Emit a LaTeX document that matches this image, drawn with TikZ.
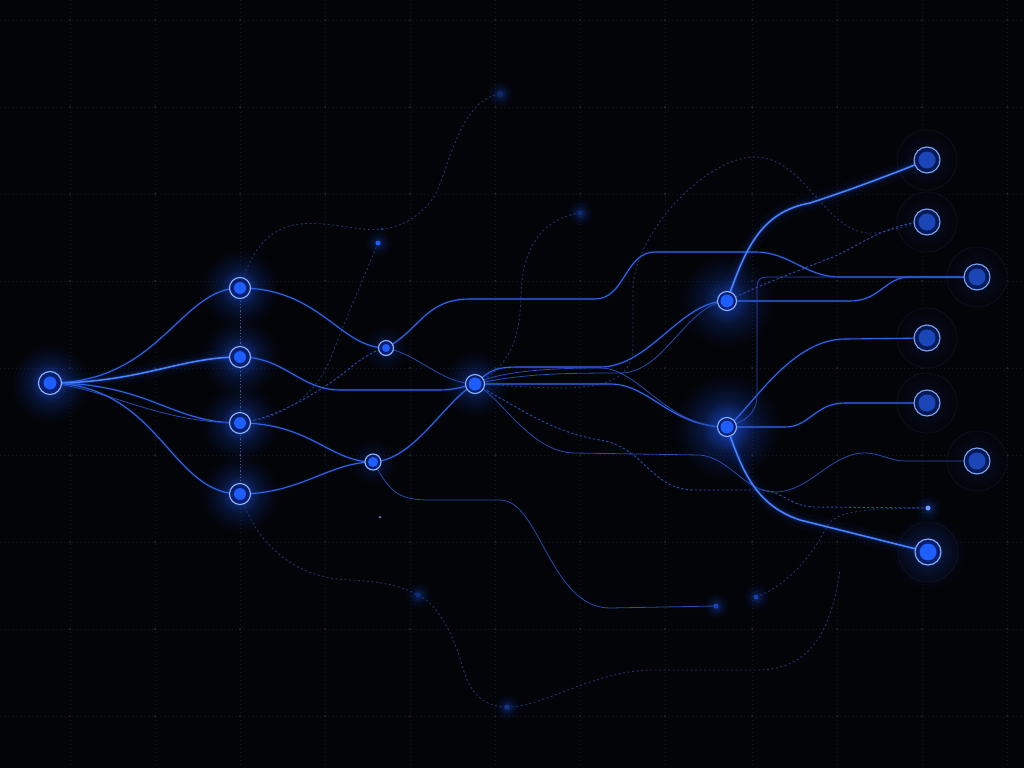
\documentclass[tikz,border=0pt]{standalone}
\usetikzlibrary{fadings}
\definecolor{bg}{HTML}{030408}
\definecolor{gridc}{HTML}{121726}
\definecolor{griddot}{HTML}{252C40}
\definecolor{glowc}{HTML}{1F5BFF}
\definecolor{brightc}{HTML}{4A85FF}
\definecolor{midc}{HTML}{3065EA}
\definecolor{faintc}{HTML}{264BB4}
\definecolor{dashc}{HTML}{22336C}
\definecolor{colldot}{HTML}{3E5AA0}
\definecolor{ringc}{HTML}{8FB6FF}
\definecolor{outring}{HTML}{7EA7F5}
\definecolor{innerc}{HTML}{0A1F6E}
\definecolor{outinner}{HTML}{081A55}
\definecolor{corec}{HTML}{1E5EFF}
\definecolor{outcore}{HTML}{1B46B8}
\definecolor{halofill}{HTML}{04050B}
\definecolor{haloline}{HTML}{0B1020}

\pgfdeclareradialshading{glowfadeshade}{\pgfpointorigin}{color(0bp)=(pgftransparent!0); color(5bp)=(pgftransparent!40); color(12bp)=(pgftransparent!75); color(20bp)=(pgftransparent!93); color(25bp)=(pgftransparent!100); color(50bp)=(pgftransparent!100)}
\pgfdeclarefading{glowfade}{\pgfuseshading{glowfadeshade}}

\tikzset{
  gridline/.style={gridc, line width=0.6pt, dash pattern=on 1pt off 3pt},
  brightedge/.style={brightc, line width=1.5pt, line cap=round,
    preaction={draw=glowc, line width=16pt, draw opacity=0.04},
    preaction={draw=glowc, line width=8pt, draw opacity=0.08},
    preaction={draw=glowc, line width=3.5pt, draw opacity=0.22}},
  midedge/.style={midc, line width=1.1pt, line cap=round,
    preaction={draw=glowc, line width=3pt, draw opacity=0.12}},
  faintedge/.style={faintc, line width=0.8pt, line cap=round},
  dashedge/.style={dashc, line width=0.9pt, dash pattern=on 2pt off 2.5pt},
  dashmid/.style={faintc, line width=0.9pt, dash pattern=on 2.5pt off 2pt},
  glowspot/.style={glowc, path fading=glowfade, fill opacity=#1},
  netnode/.style 2 args={circle, inner sep=0pt, minimum size=#1, draw=ringc, line width=1.1pt, fill=innerc,
    path picture={\fill[corec] (path picture bounding box.center) circle (#2);}},
  outnode/.style 2 args={circle, inner sep=0pt, minimum size=#1, draw=outring, line width=1.1pt, fill=outinner,
    path picture={\fill[outcore] (path picture bounding box.center) circle (#2);}},
  dotnode/.style 2 args={circle, inner sep=0pt, minimum size=#1, fill=#2},
  halo/.style={draw=haloline, fill=halofill, line width=0.8pt},
}

\begin{document}
\begin{tikzpicture}[x=1pt,y=-1pt]
\useasboundingbox (0,0) rectangle (1024,768);
\fill[bg] (0,0) rectangle (1024,768);

% grid
\foreach \gx in {70,155,240,325,410,495,580,665,752,837,922,1007}{
  \draw[gridline] (\gx,0) -- (\gx,768);
}
\foreach \gy in {20,107,194,281,368,455,542,629,716}{
  \draw[gridline] (0,\gy) -- (1024,\gy);
}
\foreach \gx in {70,155,240,325,410,495,580,665,752,837,922,1007}{
  \foreach \gy in {20,107,194,281,368,455,542,629,716}{
    \fill[griddot] (\gx,\gy) circle (1pt);
  }
}

% positions
\coordinate (S) at (50,383);
\coordinate (A1) at (240,288);
\coordinate (A2) at (240,357);
\coordinate (A3) at (240,423);
\coordinate (A4) at (240,494);
\coordinate (B1) at (386,348);
\coordinate (B2) at (373,462);
\coordinate (H) at (475,384);
\coordinate (R1) at (727,301);
\coordinate (R2) at (727,427);
\coordinate (O1) at (927,160);
\coordinate (O2) at (927,222);
\coordinate (O3) at (977,277);
\coordinate (O4) at (927,338);
\coordinate (O5) at (927,403);
\coordinate (O6) at (977,461);
\coordinate (O7) at (928,508);
\coordinate (O8) at (928,552);
\coordinate (D1) at (716,606);
\coordinate (D2) at (507,707);
\coordinate (D3) at (580,213);
\coordinate (D4) at (500,94);
\coordinate (D5) at (378,243);
\coordinate (D6) at (418,595);
\coordinate (D7) at (380,517);
\coordinate (D8) at (756,597);
\coordinate (D9) at (382,229);
\coordinate (E1) at (840,570);

% halos around outputs
\foreach \o in {O1,O2,O3,O4,O5,O6,O8}{
  \draw[halo] (\o) circle (30pt);
}

% glows
\fill[glowspot=0.8] (S) circle (40pt);
\foreach \a in {A1,A2,A3,A4}{ \fill[glowspot=0.75] (\a) circle (40pt); }
\fill[glowspot=0.4] (B1) circle (24pt);
\fill[glowspot=0.4] (B2) circle (24pt);
\fill[glowspot=0.65] (H) circle (34pt);
\fill[glowspot=0.7] (R1) circle (48pt);
\fill[glowspot=0.85] (R2) circle (54pt);
\foreach \o in {O1,O2,O3,O4,O5,O6}{ \fill[glowspot=0.22] (\o) circle (30pt); }
\fill[glowspot=0.5] (O8) circle (38pt);
\fill[glowspot=0.45] (O7) circle (14pt);
\foreach \d in {D1,D2,D3,D4,D5,D6,D8}{ \fill[glowspot=0.45] (\d) circle (14pt); }

% dashed faint connections
\draw[colldot, line width=0.8pt, dash pattern=on 1.2pt off 2pt] (A1) -- (A4);
\draw[dashedge] (A1) .. controls (250,255) and (265,228) .. (300,224)
  .. controls (330,221) and (360,232) .. (D9)
  .. controls (405,227) and (425,212) .. (435,195)
  .. controls (450,165) and (460,100) .. (D4);
\draw[dashmid] (A3) .. controls (280,418) and (330,385) .. (350,368)
  .. controls (362,358) and (375,350) .. (B1);
\draw[dashedge] (D5) .. controls (365,275) and (345,320) .. (330,360)
  .. controls (315,395) and (285,418) .. (A3);
\draw[dashedge] (A4) .. controls (255,540) and (290,578) .. (350,580)
  .. controls (390,582) and (405,588) .. (D6)
  .. controls (440,605) and (455,640) .. (462,665)
  .. controls (470,695) and (485,707) .. (D2);
\draw[dashedge] (D2) .. controls (545,707) and (590,672) .. (650,670) -- (760,670)
  .. controls (805,668) and (830,640) .. (E1);
\draw[dashedge] (D8) .. controls (790,585) and (815,550) .. (825,530)
  .. controls (832,515) and (845,508) .. (O7);
\draw[dashedge] (H) .. controls (515,365) and (520,330) .. (521,295)
  .. controls (522,245) and (545,218) .. (D3);
\draw[dashedge] (H) .. controls (560,388) and (633,400) .. (633,345) -- (633,290)
  .. controls (633,235) and (705,157) .. (755,157)
  .. controls (805,157) and (825,233) .. (870,233)
  .. controls (890,233) and (905,224) .. (O2);
\draw[dashmid] (H) .. controls (515,405) and (550,432) .. (600,440)
  .. controls (645,447) and (650,490) .. (695,490) -- (760,490)
  .. controls (782,490) and (790,507) .. (815,507) -- (O7);
\draw[dashmid] (R1) .. controls (760,285) and (800,270) .. (833,257)
  .. controls (860,245) and (890,222) .. (O2);

% fan from source
\draw[midedge] (S) .. controls (160,383) and (180,288) .. (A1);
\draw[brightedge] (S) .. controls (140,383) and (180,357) .. (A2);
\draw[midedge] (S) .. controls (150,383) and (170,423) .. (A3);
\draw[faintedge] (S) .. controls (110,390) and (160,423) .. (A3);
\draw[midedge] (S) .. controls (160,385) and (170,494) .. (A4);

% column A to B / H
\draw[midedge] (A1) .. controls (320,288) and (340,348) .. (B1);
\draw[midedge] (A2) .. controls (285,357) and (300,390) .. (340,390) -- (440,390)
  .. controls (455,390) and (465,386) .. (H);
\draw[midedge] (A3) .. controls (310,423) and (330,462) .. (B2);
\draw[midedge] (A4) .. controls (300,494) and (330,462) .. (B2);

% B level
\draw[midedge] (B1) .. controls (420,330) and (425,299) .. (470,299) -- (595,299)
  .. controls (625,299) and (625,252) .. (655,252) -- (755,252)
  .. controls (790,252) and (805,277) .. (840,277) -- (O3);
\draw[faintedge] (B1) .. controls (420,355) and (440,383) .. (H);
\draw[midedge] (B2) .. controls (415,460) and (445,400) .. (H);
\draw[faintedge] (B2) .. controls (390,490) and (395,500) .. (430,500) -- (500,500)
  .. controls (540,500) and (550,608) .. (610,608) -- (D1);

% hub to right
\draw[midedge] (H) .. controls (490,370) and (495,367) .. (520,367) -- (600,367)
  .. controls (650,367) and (680,301) .. (R1);
\draw[faintedge] (H) .. controls (520,374) and (560,373) .. (620,373)
  .. controls (665,373) and (685,305) .. (R1);
\draw[midedge] (H) .. controls (500,384) and (520,384) .. (560,384) -- (610,384)
  .. controls (650,384) and (670,427) .. (R2);
\draw[faintedge] (H) .. controls (500,370) and (560,368) .. (600,368)
  .. controls (640,368) and (665,427) .. (R2);
\draw[faintedge] (H) .. controls (500,395) and (530,453) .. (575,453) -- (700,455)
  .. controls (730,458) and (745,492) .. (775,492)
  .. controls (810,492) and (830,453) .. (865,453)
  .. controls (880,453) and (890,461) .. (905,461) -- (O6);

% R1 outputs
\draw[brightedge] (R1) .. controls (745,250) and (760,212) .. (810,203)
  .. controls (850,190) and (890,175) .. (O1);
\draw[midedge] (R1) -- (850,301) .. controls (880,301) and (885,277) .. (910,277) -- (O3);

% R2 outputs
\draw[brightedge] (R2) .. controls (742,470) and (755,505) .. (800,520) -- (O8);
\draw[midedge] (R2) -- (785,427) .. controls (810,427) and (815,403) .. (845,403) -- (O5);
\draw[midedge] (R2) .. controls (750,410) and (790,339) .. (845,339) -- (O4);
\draw[faintedge] (R2) .. controls (750,420) and (757,410) .. (757,395) -- (757,287)
  .. controls (757,280) and (760,277) .. (767,277) -- (O3);

% nodes
\node[netnode={23pt}{6.5pt}] (nS) at (S) {};
\node[netnode={21pt}{6pt}] (nA1) at (A1) {};
\node[netnode={21pt}{6pt}] (nA2) at (A2) {};
\node[netnode={21pt}{6pt}] (nA3) at (A3) {};
\node[netnode={21pt}{6pt}] (nA4) at (A4) {};
\node[netnode={15pt}{4pt}] (nB1) at (B1) {};
\node[netnode={16pt}{5pt}] (nB2) at (B2) {};
\node[netnode={19pt}{6.5pt}] (nH) at (H) {};
\node[netnode={19pt}{6.5pt}] (nR1) at (R1) {};
\node[netnode={19pt}{6.5pt}] (nR2) at (R2) {};
\node[outnode={26pt}{8.5pt}] (nO1) at (O1) {};
\node[outnode={26pt}{8.5pt}] (nO2) at (O2) {};
\node[outnode={26pt}{8.5pt}] (nO3) at (O3) {};
\node[outnode={26pt}{8.5pt}] (nO4) at (O4) {};
\node[outnode={26pt}{8.5pt}] (nO5) at (O5) {};
\node[outnode={26pt}{8.5pt}] (nO6) at (O6) {};
\node[netnode={26pt}{8.5pt}] (nO8) at (O8) {};
\node[dotnode={5pt}{ringc!70!corec}] (nO7) at (O7) {};
\node[dotnode={5pt}{corec!70!bg}] (nD1) at (D1) {};
\node[dotnode={5pt}{corec!55!bg}] (nD2) at (D2) {};
\node[dotnode={5pt}{corec!45!bg}] (nD3) at (D3) {};
\node[dotnode={6pt}{corec!40!bg}] (nD4) at (D4) {};
\node[dotnode={5pt}{corec}] (nD5) at (D5) {};
\node[dotnode={5pt}{corec!45!bg}] (nD6) at (D6) {};
\node[dotnode={3pt}{ringc!60!bg}] (nD7) at (D7) {};
\node[dotnode={5pt}{corec!65!bg}] (nD8) at (D8) {};
\node[dotnode={3pt}{corec!55!bg}] (nD9) at (D9) {};
\end{tikzpicture}
\end{document}
